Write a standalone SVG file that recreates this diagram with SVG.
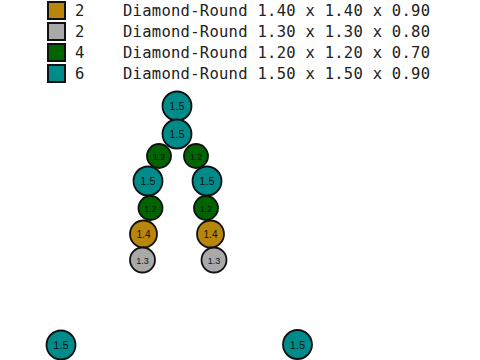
<svg xmlns="http://www.w3.org/2000/svg" width="480" height="360" viewBox="0 0 480 360">
<style>
.sw{stroke:#111;stroke-width:2}
.lg{font-family:"DejaVu Sans Mono",monospace;font-size:15.5px;fill:#222}
.c{stroke:#111;stroke-width:1.8}
.t{font-family:"Liberation Sans",Arial,sans-serif;text-anchor:middle;fill:#111}
.teal{fill:#008B8B}.green{fill:#006400}.gold{fill:#B8860B}.gray{fill:#A9A9A9}
</style>
<rect width="480" height="360" fill="#fff"/>
<g id="legend">
<rect class="sw gold" x="48" y="2" width="17" height="17"/>
<rect class="sw gray" x="48" y="23" width="17" height="17"/>
<rect class="sw green" x="48" y="44" width="17" height="17"/>
<rect class="sw teal" x="48" y="65" width="17" height="17"/>
<text class="lg" x="75" y="16">2</text>
<text class="lg" x="75" y="37">2</text>
<text class="lg" x="75" y="58">4</text>
<text class="lg" x="75" y="79">6</text>
<text class="lg" x="123" y="16" textLength="307">Diamond-Round 1.40 x 1.40 x 0.90</text>
<text class="lg" x="123" y="37" textLength="307">Diamond-Round 1.30 x 1.30 x 0.80</text>
<text class="lg" x="123" y="58" textLength="307">Diamond-Round 1.20 x 1.20 x 0.70</text>
<text class="lg" x="123" y="79" textLength="307">Diamond-Round 1.50 x 1.50 x 0.90</text>
</g>
<g id="connectors"></g>
<g id="n1"><circle class="c teal" cx="177" cy="106" r="14.5"/><text class="t" x="177" y="110" font-size="11">1.5</text></g>
<g id="n2"><circle class="c teal" cx="177" cy="134" r="14.5"/><text class="t" x="177" y="138" font-size="11">1.5</text></g>
<g id="n3"><circle class="c green" cx="159" cy="156" r="12"/><text class="t" x="159" y="159.5" font-size="9">1.2</text></g>
<g id="n4"><circle class="c green" cx="196" cy="156" r="12"/><text class="t" x="196" y="159.5" font-size="9">1.2</text></g>
<g id="n5"><circle class="c teal" cx="148" cy="181" r="14.5"/><text class="t" x="148" y="185" font-size="11">1.5</text></g>
<g id="n6"><circle class="c teal" cx="207" cy="181" r="14.5"/><text class="t" x="207" y="185" font-size="11">1.5</text></g>
<g id="n7"><circle class="c green" cx="150.5" cy="208" r="12"/><text class="t" x="150.5" y="211.5" font-size="9">1.2</text></g>
<g id="n8"><circle class="c green" cx="206" cy="208" r="12"/><text class="t" x="206" y="211.5" font-size="9">1.2</text></g>
<g id="n9"><circle class="c gold" cx="143.5" cy="234" r="13.5"/><text class="t" x="143.5" y="237.5" font-size="10">1.4</text></g>
<g id="n10"><circle class="c gold" cx="210.5" cy="234" r="13.5"/><text class="t" x="210.5" y="237.5" font-size="10">1.4</text></g>
<g id="n11"><circle class="c gray" cx="142.5" cy="260" r="12.5"/><text class="t" x="142.5" y="263.5" font-size="9">1.3</text></g>
<g id="n12"><circle class="c gray" cx="214" cy="260" r="12.5"/><text class="t" x="214" y="263.5" font-size="9">1.3</text></g>
<g id="n13"><circle class="c teal" cx="61" cy="345" r="14.5"/><text class="t" x="61" y="349" font-size="11">1.5</text></g>
<g id="n14"><circle class="c teal" cx="297.5" cy="344.5" r="14.5"/><text class="t" x="297.5" y="348.5" font-size="11">1.5</text></g>
</svg>
